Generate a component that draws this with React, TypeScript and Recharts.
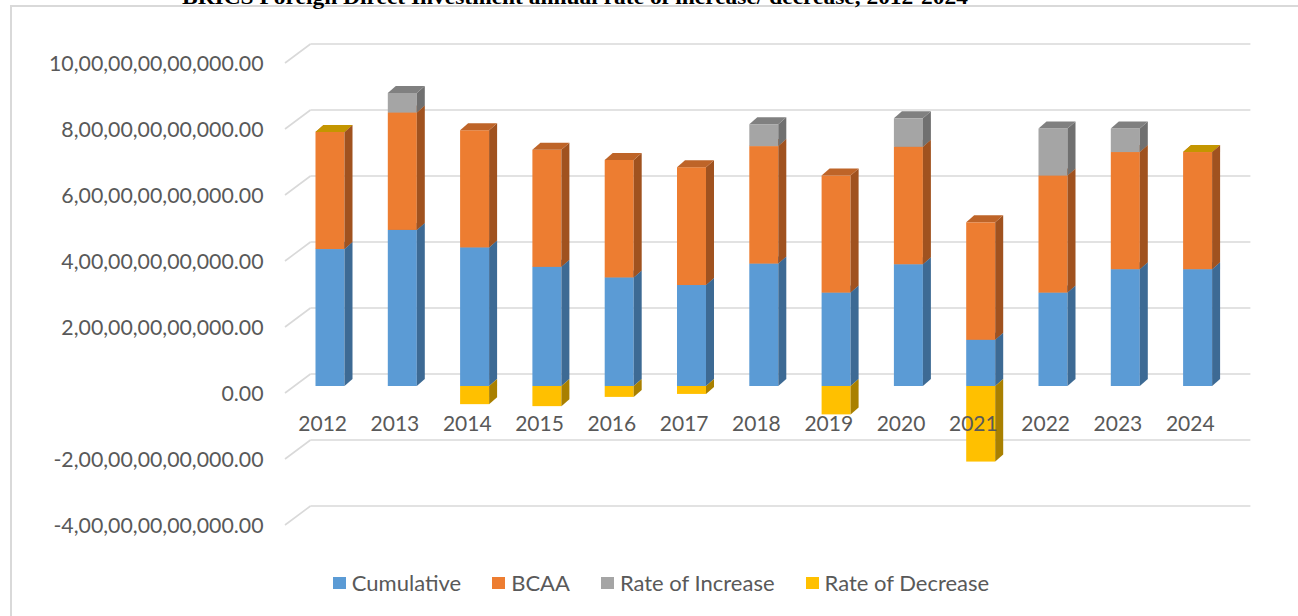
import React from 'react';
import { BarChart, Bar, XAxis, YAxis, CartesianGrid, Legend } from 'recharts';

const years = ['2012', '2013', '2014', '2015', '2016', '2017', '2018', '2019', '2020', '2021', '2022', '2023', '2024'];
const cumulative = [4.15e12, 4.73e12, 4.2e12, 3.61e12, 3.29e12, 3.06e12, 3.71e12, 2.83e12, 3.69e12, 1.4e12, 2.83e12, 3.54e12, 3.54e12];
const bcaa = [3.55e12, 3.56e12, 3.55e12, 3.55e12, 3.56e12, 3.57e12, 3.56e12, 3.55e12, 3.56e12, 3.56e12, 3.55e12, 3.55e12, 3.55e12];
const rateIncrease: (number | null)[] = [null, 0.59e12, null, null, null, null, 0.66e12, null, 0.86e12, null, 1.42e12, 0.71e12, null];
const rateDecrease: (number | null)[] = [0, null, -0.55e12, -0.61e12, -0.33e12, -0.24e12, null, -0.86e12, null, -2.29e12, null, null, 0];

const yTickValues = [1e13, 8e12, 6e12, 4e12, 2e12, 0, -2e12, -4e12];
const yTickLabels = [
  '10,00,00,00,00,000.00',
  '8,00,00,00,00,000.00',
  '6,00,00,00,00,000.00',
  '4,00,00,00,00,000.00',
  '2,00,00,00,00,000.00',
  '0.00',
  '-2,00,00,00,00,000.00',
  '-4,00,00,00,00,000.00',
];

const titleText = 'BRICS Foreign Direct Investment annual rate of increase/ decrease, 2012-2024';

const data = years.map((year, i) => ({
  year,
  cumulative: cumulative[i],
  bcaa: bcaa[i],
  increase: rateIncrease[i],
  decrease: rateDecrease[i],
}));

const series = [
  { key: 'cumulative', name: 'Cumulative', front: '#5B9BD5', side: '#3D6A94', top: '#4A80B3' },
  { key: 'bcaa', name: 'BCAA', front: '#ED7D31', side: '#A0521F', top: '#BE6428' },
  { key: 'increase', name: 'Rate of Increase', front: '#A5A5A5', side: '#707070', top: '#808080' },
  { key: 'decrease', name: 'Rate of Decrease', front: '#FFC000', side: '#A98000', top: '#C49600' },
];

const DX = 8;
const DY = 7;
const FONT = 'Lato, "Open Sans", sans-serif';
const TEXT = '#595959';

const makeShape = (key: string, c: { front: string; side: string; top: string }) => (p: any) => {
  const raw = p.payload ? p.payload[key] : null;
  if (raw === null || raw === undefined) return <g />;
  const h = Number(p.height) || 0;
  const top = Math.min(p.y, p.y + h);
  const bot = Math.max(p.y, p.y + h);
  const L = p.x;
  const R = p.x + p.width;
  const neg = raw < 0;
  return (
    <g>
      {bot - top > 0 && <rect x={L} y={top} width={p.width} height={bot - top} fill={c.front} />}
      {bot - top > 0 && (
        <polygon points={`${R},${bot} ${R},${top} ${R + DX},${top - DY} ${R + DX},${bot - DY}`} fill={c.side} />
      )}
      {!neg && (
        <polygon points={`${L},${top} ${R},${top} ${R + DX},${top - DY} ${L + DX},${top - DY}`} fill={c.top} />
      )}
    </g>
  );
};

const gridLine = (props: any) => {
  const { x1, x2, y1, index } = props;
  return (
    <g key={`grid-${index}-${y1}`}>
      <line x1={x1 + 17} x2={x2 + 17} y1={y1 - 12} y2={y1 - 12} stroke="#D9D9D9" strokeWidth={1.6} />
      <line x1={x1 - 8.5} y1={y1 + 7} x2={x1 + 17} y2={y1 - 12} stroke="#D9D9D9" strokeWidth={1.6} />
    </g>
  );
};

const YTick = (props: any) => {
  const { x, y, payload } = props;
  const idx = yTickValues.indexOf(payload.value);
  return (
    <text x={x - 22} y={y + 15} textAnchor="end" fontFamily={FONT} fontSize={21.3} fill={TEXT}>
      {idx >= 0 ? yTickLabels[idx] : ''}
    </text>
  );
};

const XTick = (props: any) => {
  const { x, y, payload } = props;
  return (
    <text x={x - 7} y={y - 95} textAnchor="middle" fontFamily={FONT} fontSize={21} fill={TEXT}>
      {payload.value}
    </text>
  );
};

const LegendContent = () => (
  <div
    style={{
      display: 'flex',
      justifyContent: 'center',
      alignItems: 'center',
      fontFamily: FONT,
      fontSize: 22,
      color: TEXT,
      height: 24,
      paddingLeft: 24,
    }}
  >
    {series.map((s, i) => (
      <div key={s.key} style={{ display: 'flex', alignItems: 'center', marginRight: i < series.length - 1 ? 31 : 0 }}>
        <span style={{ display: 'inline-block', width: 13, height: 12, background: s.front, marginRight: 6 }} />
        <span style={{ lineHeight: '24px', whiteSpace: 'nowrap' }}>{s.name}</span>
      </div>
    ))}
  </div>
);

export default function App() {
  return (
    <div style={{ position: 'fixed', left: 0, top: 0, width: 1298, height: 616, overflow: 'hidden', background: '#fff' }}>
      <style>{'html,body{margin:0;padding:0;overflow:hidden;}'}</style>
      <div style={{ position: 'absolute', left: 0, top: 0, width: 1298, height: 616 }}>
        <BarChart
          width={1298}
          height={616}
          data={data}
          stackOffset="sign"
          margin={{ top: 56, right: 64.6, left: 13.5, bottom: 68 }}
        >
          <CartesianGrid vertical={false} horizontal={gridLine} />
          <YAxis
            type="number"
            domain={[-4e12, 1e13]}
            ticks={yTickValues}
            interval={0}
            axisLine={false}
            tickLine={false}
            width={280}
            tick={<YTick />}
          />
          {series.map((s) => (
            <Bar
              key={s.key}
              dataKey={s.key}
              name={s.name}
              stackId="a"
              fill={s.front}
              barSize={29}
              isAnimationActive={false}
              shape={makeShape(s.key, s)}
            />
          ))}
          <XAxis dataKey="year" axisLine={false} tickLine={false} interval={0} tick={<XTick />} />
          <Legend
            verticalAlign="middle"
            align="center"
            layout="horizontal"
            wrapperStyle={{ top: 571, left: 0, width: 1298, height: 24 }}
            content={<LegendContent />}
          />
        </BarChart>
      </div>
      <div
        style={{
          position: 'absolute',
          left: 10,
          top: 5,
          width: 1288,
          height: 611,
          borderTop: '2px solid #D9D9D9',
          borderLeft: '2px solid #D9D9D9',
          boxSizing: 'border-box',
          zIndex: 6,
          pointerEvents: 'none',
        }}
      />
      <svg width={1298} height={20} style={{ position: 'absolute', left: 0, top: 0, zIndex: 7 }}>
        <text
          x={575}
          y={3.5}
          textAnchor="middle"
          fontFamily='"Liberation Serif", "Times New Roman", serif'
          fontWeight="bold"
          fontSize={20}
          textLength={786}
          lengthAdjust="spacingAndGlyphs"
        >
          {titleText}
        </text>
      </svg>
    </div>
  );
}
